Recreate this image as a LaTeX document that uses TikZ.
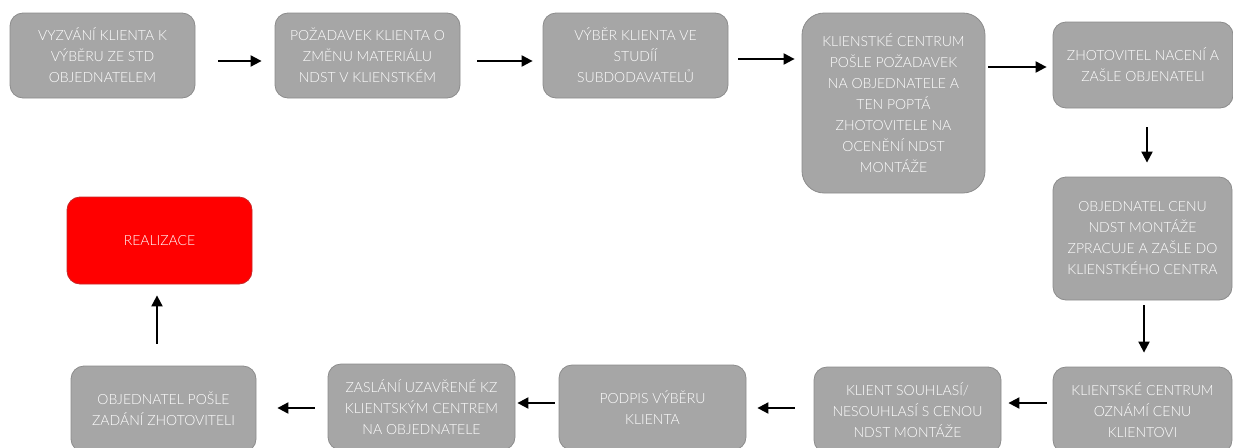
\documentclass[tikz,border=0pt]{standalone}
\usepackage{fontspec}
\setmainfont{Lato Light}
\usetikzlibrary{arrows.meta}
\definecolor{boxgray}{RGB}{166,166,166}
\definecolor{boxedge}{RGB}{140,140,140}
\definecolor{boxred}{RGB}{255,0,0}
\definecolor{rededge}{RGB}{200,40,40}
\tikzset{
  stepbox/.style={draw=boxedge, line width=0.8pt, fill=boxgray, rounded corners=13pt,
    align=center, inner sep=0pt, text=white,
    font=\fontsize{14}{21}\selectfont},
  finalbox/.style={stepbox, fill=boxred, draw=rededge},
  flow/.style={draw=black, line width=2pt, -{Triangle[length=11pt,width=11pt]}}
}
\begin{document}
\begin{tikzpicture}[x=1pt,y=-1pt]
\useasboundingbox (0,0) rectangle (1233,447);
\clip (0,0) rectangle (1233,447);

% top row
\node[stepbox, minimum width=185pt, minimum height=85pt] (b1) at (102.5,55.5)
  {VYZVÁNÍ KLIENTA K\\VÝBĚRU ZE STD\\OBJEDNATELEM};
\node[stepbox, minimum width=185pt, minimum height=85pt] (b2) at (367.5,55.5)
  {POŽADAVEK KLIENTA O\\ZMĚNU MATERIÁLU\\NDST V KLIENSTKÉM};
\node[stepbox, minimum width=185pt, minimum height=85pt] (b3) at (635.5,55.5)
  {VÝBĚR KLIENTA VE\\STUDÍÍ\\SUBDODAVATELŮ};
\node[stepbox, rounded corners=22pt, minimum width=183pt, minimum height=180pt] (b4) at (893.5,103)
  {KLIENSTKÉ CENTRUM\\POŠLE POŽADAVEK\\NA OBJEDNATELE A\\TEN POPTÁ\\ZHOTOVITELE NA\\OCENĚNÍ NDST\\MONTÁŽE};
\node[stepbox, minimum width=180pt, minimum height=86pt] (b5) at (1143,65)
  {ZHOTOVITEL NACENÍ A\\ZAŠLE OBJENATELI};

% right column
\node[stepbox, minimum width=179pt, minimum height=123pt] (b6) at (1142.5,238.5)
  {OBJEDNATEL CENU\\NDST MONTÁŽE\\ZPRACUJE A ZAŠLE DO\\KLIENSTKÉHO CENTRA};
\node[stepbox, minimum width=179pt, minimum height=86pt] (b7) at (1142.5,410)
  {KLIENTSKÉ CENTRUM\\OZNÁMÍ CENU\\KLIENTOVI};

% bottom row
\node[stepbox, minimum width=187pt, minimum height=86pt] (b8) at (907.5,410)
  {KLIENT SOUHLASÍ/\\NESOUHLASÍ S CENOU\\NDST MONTÁŽE};
\node[stepbox, minimum width=187pt, minimum height=85pt] (b9) at (652.5,407.5)
  {PODPIS VÝBĚRU\\KLIENTA};
\node[stepbox, minimum width=187pt, minimum height=86pt] (b10) at (421.5,407)
  {ZASLÁNÍ UZAVŘENÉ KZ\\KLIENTSKÝM CENTREM\\NA OBJEDNATELE};
\node[stepbox, minimum width=185pt, minimum height=86pt] (b11) at (163.5,409)
  {OBJEDNATEL POŠLE\\ZADÁNÍ ZHOTOVITELI};

% final step
\node[finalbox, minimum width=185pt, minimum height=87pt] (real) at (159.5,240.5)
  {REALIZACE};

% connectors
\draw[flow, shorten <=23pt, shorten >=13pt] ([yshift=-5.5pt]b1.east) -- ([yshift=-5.5pt]b2.west);
\draw[flow, shorten <=17pt, shorten >=10pt] ([yshift=-5.5pt]b2.east) -- ([yshift=-5.5pt]b3.west);
\draw[flow, shorten <=10pt, shorten >=7pt] ([yshift=-3.5pt]b3.east) -- ([yshift=44pt]b4.west);
\draw[flow, shorten <=3pt, shorten >=6pt] ([yshift=36pt]b4.east) -- ([yshift=-2pt]b5.west);
\draw[flow, shorten <=19pt, shorten >=14pt] ([xshift=4pt]b5.south) -- ([xshift=4.5pt]b6.north);
\draw[flow, shorten <=5pt, shorten >=14pt] ([xshift=1.5pt]b6.south) -- ([xshift=1.5pt]b7.north);
\draw[flow, shorten <=6pt, shorten >=7pt] ([yshift=7pt]b7.west) -- ([yshift=7pt]b8.east);
\draw[flow, shorten <=19pt, shorten >=11pt] ([yshift=2pt]b8.west) -- ([yshift=-0.5pt]b9.east);
\draw[flow, shorten <=4pt, shorten >=2pt] ([yshift=4.5pt]b9.west) -- ([yshift=4pt]b10.east);
\draw[flow, shorten <=13pt, shorten >=21pt] ([yshift=-1pt]b10.west) -- ([yshift=1pt]b11.east);
\draw[flow, shorten <=22pt, shorten >=11pt] ([xshift=-6.5pt]b11.north) -- ([xshift=-2.5pt]real.south);
\end{tikzpicture}
\end{document}
